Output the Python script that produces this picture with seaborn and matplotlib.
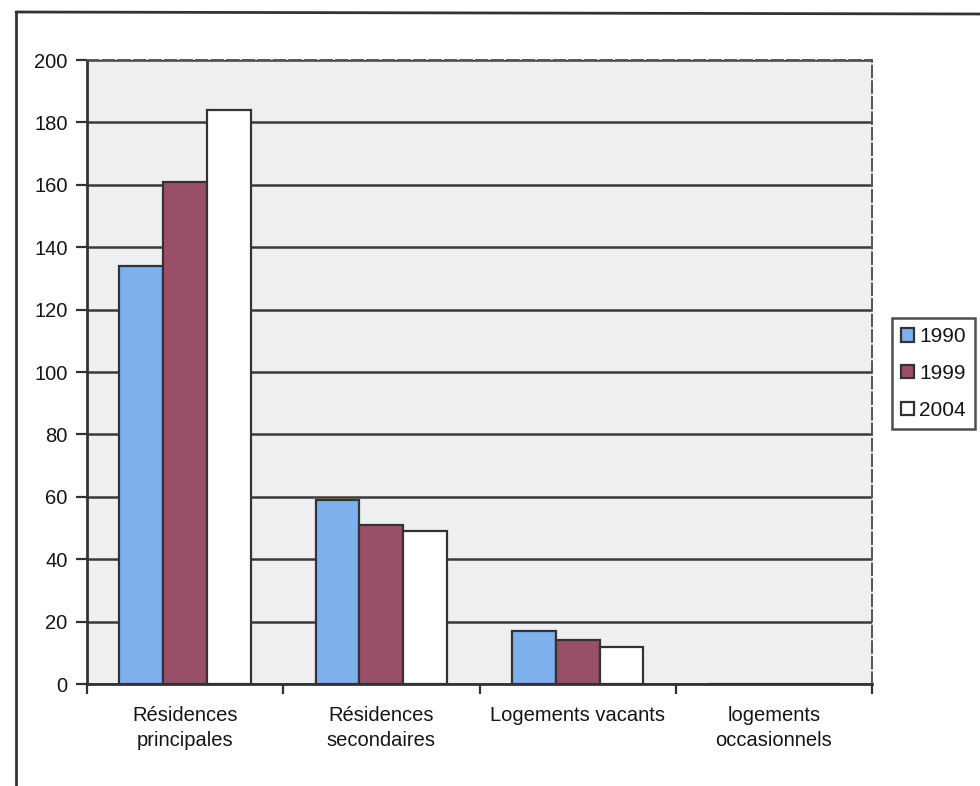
import matplotlib
matplotlib.use("Agg")
import matplotlib.pyplot as plt
from matplotlib.lines import Line2D
from matplotlib.patches import Patch
import seaborn as sns
import pandas as pd

categories = ["Résidences\nprincipales", "Résidences\nsecondaires",
              "Logements vacants", "logements\noccasionnels"]
years = ["1990", "1999", "2004"]
values_1990 = [134, 59, 17, 0]
values_1999 = [161, 51, 14, 0]
values_2004 = [184, 49, 12, 0]
y_ticks = [0, 20, 40, 60, 80, 100, 120, 140, 160, 180, 200]

colors = {"1990": "#7fb0ee", "1999": "#9a4f68", "2004": "#ffffff"}

rows = []
for year, vals in zip(years, [values_1990, values_1999, values_2004]):
    for cat, v in zip(categories, vals):
        rows.append({"categorie": cat, "annee": year, "valeur": v})
df = pd.DataFrame(rows)

sns.set_theme(style="white")
plt.rcParams["font.family"] = ["Liberation Sans", "DejaVu Sans"]

fig = plt.figure(figsize=(9.8, 7.86), dpi=100)
fig.patch.set_facecolor("white")
ax = fig.add_axes([87 / 980, 1 - 684 / 786, (872 - 87) / 980, (684 - 60) / 786])
ax.set_facecolor("#efeff2")

sns.barplot(data=df, x="categorie", y="valeur", hue="annee", order=categories,
            hue_order=years, palette=colors, saturation=1, width=0.67,
            edgecolor="#333333", linewidth=1.6, ax=ax, legend=False, zorder=3)

ax.set_ylim(0, 200)
ax.set_xlim(-0.5, 3.5)
ax.set_yticks(y_ticks)
ax.yaxis.grid(True, color="#3a3a3a", linewidth=1.8, zorder=0)
ax.set_axisbelow(True)
ax.set_xlabel("")
ax.set_ylabel("")

text_color = "#151515"
ax.tick_params(axis="y", which="major", direction="out", length=8, width=1.6,
               color="#333333", labelsize=14.5, labelcolor=text_color, pad=6, left=True)
ax.set_xticks(range(len(categories)))
ax.set_xticklabels(categories, fontsize=14.5, color=text_color, va="top",
                   linespacing=1.4)
ax.tick_params(axis="x", which="major", length=0, pad=16)
ax.set_xticks([-0.5, 0.5, 1.5, 2.5, 3.5], minor=True)
ax.tick_params(axis="x", which="minor", direction="out", length=7, width=1.6,
               color="#333333", bottom=True)

for side in ["left", "bottom"]:
    ax.spines[side].set_color("#333333")
    ax.spines[side].set_linewidth(2.0)
for side in ["top", "right"]:
    ax.spines[side].set_color("#555555")
    ax.spines[side].set_linewidth(1.4)
    ax.spines[side].set_linestyle((0, (6, 2)))

handles = [Patch(facecolor=colors[y], edgecolor="#333333", linewidth=1.6) for y in years]
leg = ax.legend(handles, years, loc="upper left",
                bbox_to_anchor=(892 / 980, 1 - 318 / 786),
                bbox_transform=fig.transFigure, frameon=True, fancybox=False,
                fontsize=15, handlelength=0.6, handleheight=0.6,
                handletextpad=0.25, labelspacing=0.85, borderpad=0.45,
                borderaxespad=0, labelcolor=text_color)
leg.get_frame().set_edgecolor("#222222")
leg.get_frame().set_linewidth(1.8)

# outer chart frame (left and top edges)
fig.add_artist(Line2D([16 / 980, 16 / 980], [0, 1 - 12 / 786],
                      transform=fig.transFigure, color="#333333", linewidth=2))
fig.add_artist(Line2D([16 / 980, 1], [1 - 12 / 786, 1 - 14 / 786],
                      transform=fig.transFigure, color="#333333", linewidth=2))

fig.savefig("out.png", dpi=100)
